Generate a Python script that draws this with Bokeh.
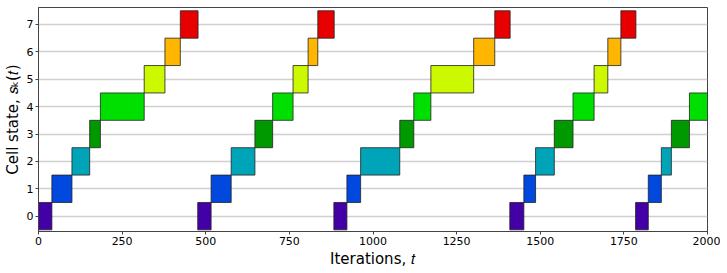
from bokeh.plotting import figure
from bokeh.models import ColumnDataSource, Range1d, FixedTicker
from bokeh.embed import file_html
from bokeh.resources import INLINE

# Cell state segments: (start, end, state)
t_start = [0, 40, 100, 153, 185, 316, 378, 424,
           476, 516, 576, 647, 700, 761, 806, 835,
           883, 922, 963, 1080, 1122, 1173, 1301, 1364,
           1409, 1451, 1486, 1542, 1598, 1661, 1702, 1741,
           1785, 1823, 1862, 1892, 1946]
t_end = [40, 100, 153, 185, 316, 378, 424, 477,
         516, 576, 647, 700, 761, 806, 835, 884,
         922, 963, 1080, 1122, 1173, 1301, 1364, 1410,
         1451, 1486, 1542, 1598, 1661, 1702, 1741, 1786,
         1823, 1862, 1892, 1946, 2000]
state = [0, 1, 2, 3, 4, 5, 6, 7] * 4 + [0, 1, 2, 3, 4]

state_colors = ["#4200a6", "#0048de", "#00a4b8", "#009a00",
                "#00e000", "#ccf800", "#ffb600", "#e80000"]

x_ticks = [0, 250, 500, 750, 1000, 1250, 1500, 1750, 2000]
y_ticks = [0, 1, 2, 3, 4, 5, 6, 7]

src = ColumnDataSource(dict(
    left=t_start, right=t_end,
    bottom=[s - 0.5 for s in state], top=[s + 0.5 for s in state],
    color=[state_colors[s] for s in state],
))

p = figure(frame_width=669, frame_height=224, output_backend="svg", toolbar_location=None,
           x_range=Range1d(0, 2000), y_range=Range1d(-0.56, 7.62),
           min_border_left=29, min_border_right=13, min_border_top=7, min_border_bottom=33)

p.quad(left="left", right="right", bottom="bottom", top="top", source=src,
       fill_color="color", line_color="#222222", line_width=1, line_alpha=0.8)

p.xaxis.ticker = FixedTicker(ticks=x_ticks)
p.yaxis.ticker = FixedTicker(ticks=y_ticks)
p.xaxis.axis_label = "Iterations, 𝑡"
p.yaxis.axis_label = "Cell state, 𝑠ₖ(𝑡)"

for ax in (p.xaxis, p.yaxis):
    ax.axis_label_text_font = "DejaVu Sans"
    ax.axis_label_text_font_style = "normal"
    ax.axis_label_text_font_size = "15px"
    ax.major_label_text_font = "DejaVu Sans"
    ax.major_label_text_font_size = "11px"
    ax.major_label_text_color = "#000000"
    ax.axis_label_text_color = "#000000"
    ax.minor_tick_line_color = None
    ax.major_tick_in = 0
    ax.major_tick_out = 3
    ax.major_tick_line_color = "#444444"
    ax.axis_line_color = "#444444"
    ax.major_label_standoff = 2
    ax.axis_label_standoff = 2

p.xgrid.grid_line_color = None
p.ygrid.grid_line_color = "#d0d0d0"
p.ygrid.grid_line_width = 1.5
p.outline_line_color = "#444444"
p.outline_line_width = 1
p.outline_line_alpha = 1

open("out.html", "w").write(file_html(p, INLINE))
